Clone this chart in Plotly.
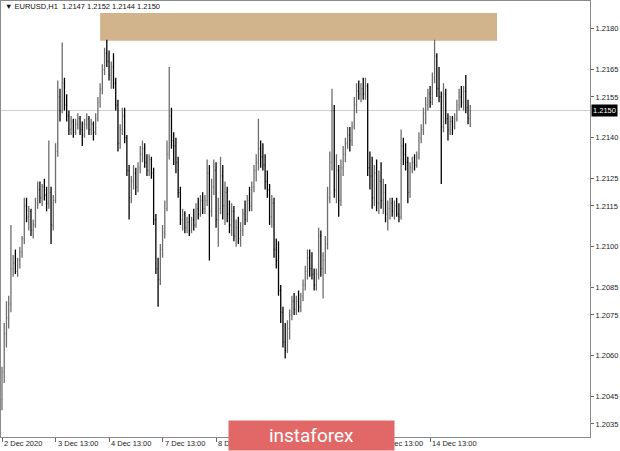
import plotly.graph_objects as go

# ---------------- data (prices in pips above 1.2000) ----------------
symbol = "EURUSD,H1"
pip_base = 1.2000
pip = 0.0001

open_pips = [44, 54, 68, 74, 79, 92, 94, 91, 95, 98, 103, 115, 111, 113, 106, 108, 116, 121, 118, 122,
             119, 116, 120, 108, 117, 135, 155, 150, 160, 152, 148, 143, 146, 142, 145, 147, 143, 141, 145, 147,
             143, 145, 142, 147, 153, 158, 165, 171, 168, 163, 166, 160, 152, 138, 143, 148, 140, 128, 118, 124,
             127, 122, 129, 134, 136, 131, 128, 132, 127, 110, 92, 88, 99, 105, 114, 134, 148, 139, 137, 131,
             120, 110, 112, 107, 109, 106, 110, 108, 114, 112, 117, 114, 117, 127, 113, 122, 128, 110, 114, 126,
             115, 120, 112, 108, 113, 104, 107, 103, 106, 112, 110, 117, 115, 122, 128, 131, 136, 133, 130, 124,
             121, 111, 116, 99, 95, 84, 76, 65, 62, 70, 75, 80, 77, 80, 78, 82, 86, 91, 96, 92,
             90, 86, 90, 104, 92, 95, 101, 118, 131, 150, 121, 128, 117, 129, 134, 138, 141, 139, 144, 152,
             157, 156, 158, 156, 159, 129, 126, 118, 127, 116, 124, 117, 120, 112, 114, 116, 113, 115, 112, 111,
             137, 134, 131, 120, 129, 131, 130, 133, 140, 143, 149, 152, 156, 153, 162, 170, 158, 155, 144, 156,
             147, 143, 146, 144, 147, 152, 155, 153, 157, 151, 147]
high_pips = [56, 72, 80, 82, 108, 97, 99, 96, 100, 104, 118, 118, 115, 114, 110, 118, 124, 124, 123, 125,
             122, 139, 122, 119, 138, 161, 158, 175, 162, 156, 150, 148, 147, 147, 149, 148, 146, 147, 149, 148,
             147, 146, 149, 155, 160, 167, 173, 176, 172, 168, 171, 162, 154, 145, 151, 151, 141, 130, 126, 130,
             129, 131, 137, 139, 138, 134, 134, 133, 129, 112, 96, 101, 108, 117, 139, 166, 151, 142, 140, 133,
             122, 114, 113, 111, 112, 111, 114, 116, 118, 119, 120, 119, 132, 130, 125, 132, 131, 118, 133, 130,
             124, 122, 117, 116, 115, 110, 111, 109, 114, 117, 119, 122, 124, 130, 134, 147, 139, 138, 134, 128,
             123, 119, 118, 103, 102, 86, 78, 72, 73, 77, 82, 83, 82, 84, 83, 88, 93, 99, 99, 98,
             92, 92, 107, 106, 98, 104, 122, 135, 158, 152, 134, 130, 132, 137, 140, 144, 144, 146, 155, 160,
             161, 160, 162, 162, 160, 135, 133, 130, 132, 128, 131, 125, 123, 117, 118, 118, 117, 118, 116, 143,
             140, 138, 133, 131, 133, 134, 135, 142, 145, 151, 155, 158, 159, 164, 176, 171, 166, 157, 160, 158,
             149, 148, 148, 149, 154, 158, 159, 159, 163, 154, 152]
low_pips = [40, 50, 63, 70, 76, 89, 90, 89, 92, 96, 101, 109, 106, 104, 103, 107, 114, 116, 115, 117,
            113, 114, 101, 106, 116, 133, 146, 149, 150, 146, 141, 141, 140, 141, 143, 141, 137, 140, 143, 141,
            141, 139, 141, 146, 151, 156, 163, 166, 161, 158, 158, 150, 135, 136, 141, 138, 126, 110, 116, 121,
            119, 120, 127, 131, 129, 126, 126, 125, 108, 90, 78, 86, 96, 103, 113, 132, 136, 130, 127, 118,
            108, 106, 105, 105, 104, 105, 106, 107, 110, 111, 112, 112, 115, 95, 111, 119, 107, 100, 112, 110,
            108, 109, 105, 104, 102, 100, 101, 100, 104, 108, 109, 113, 113, 120, 124, 128, 129, 128, 121, 118,
            108, 107, 96, 92, 82, 72, 63, 59, 61, 66, 73, 75, 75, 76, 76, 80, 84, 88, 89, 88,
            84, 84, 88, 89, 81, 90, 99, 116, 128, 118, 116, 111, 115, 126, 131, 136, 135, 137, 143, 149,
            154, 153, 154, 154, 126, 121, 114, 115, 113, 112, 114, 112, 109, 106, 110, 111, 110, 111, 109, 110,
            130, 128, 116, 118, 127, 128, 129, 132, 138, 141, 145, 150, 151, 152, 160, 155, 153, 123, 142, 145,
            139, 141, 141, 143, 146, 150, 151, 150, 149, 145, 144]
close_pips = [54, 68, 74, 79, 92, 94, 91, 95, 98, 103, 115, 111, 113, 106, 108, 116, 121, 118, 122, 119,
              116, 120, 108, 117, 135, 155, 150, 160, 152, 148, 143, 146, 142, 145, 147, 143, 141, 145, 147, 143,
              145, 142, 147, 153, 158, 165, 171, 168, 163, 166, 160, 152, 138, 143, 148, 140, 128, 118, 124, 127,
              122, 129, 134, 136, 131, 128, 132, 127, 110, 92, 88, 99, 105, 114, 134, 148, 139, 137, 131, 120,
              110, 112, 107, 109, 106, 110, 108, 114, 112, 117, 114, 117, 127, 113, 122, 128, 110, 114, 126, 115,
              120, 112, 108, 113, 104, 107, 103, 106, 112, 110, 117, 115, 122, 128, 131, 136, 133, 130, 124, 121,
              111, 116, 99, 95, 84, 76, 65, 62, 70, 75, 80, 77, 80, 78, 82, 86, 91, 96, 92, 90,
              86, 90, 104, 92, 95, 101, 118, 131, 150, 121, 128, 117, 129, 134, 138, 141, 139, 144, 152, 157,
              156, 158, 156, 159, 129, 126, 118, 127, 116, 124, 117, 120, 112, 114, 116, 113, 115, 112, 111, 137,
              134, 131, 120, 129, 131, 130, 133, 140, 143, 149, 152, 156, 153, 162, 170, 158, 155, 144, 156, 147,
              143, 146, 144, 147, 152, 155, 153, 157, 151, 147, 150]

tick_bars = [0, 24, 48, 72, 96, 120, 144, 168, 192]
tick_labels = ["2 Dec 2020", "3 Dec 13:00", "4 Dec 13:00", "7 Dec 13:00", "8 Dec 13:00",
               "9 Dec 13:00", "10 Dec 13:00", "11 Dec 13:00", "14 Dec 13:00"]
price_ticks = [1.2180, 1.2165, 1.2155, 1.2140, 1.2125, 1.2115, 1.2100,
               1.2085, 1.2075, 1.2060, 1.2045, 1.2035]
zone_bars = [44, 222]
zone_prices = [1.21756, 1.21858]
banner_text = "instaforex"

# ---------------- build ----------------
to_price = lambda v: round(pip_base + v * pip, 5)
o = [to_price(v) for v in open_pips]
h = [to_price(v) for v in high_pips]
l = [to_price(v) for v in low_pips]
c = [to_price(v) for v in close_pips]
xs = list(range(len(o)))
bid = c[-1]

FONT = "Liberation Sans"

fig = go.Figure()
fig.add_trace(go.Ohlc(
    x=xs, open=o, high=h, low=l, close=c,
    increasing=dict(line=dict(color="#6e6e6e", width=1.3)),
    decreasing=dict(line=dict(color="#000000", width=1.3)),
    tickwidth=0.35, hoverinfo="skip", showlegend=False,
))

# resistance zone
fig.add_shape(type="rect", xref="x", yref="y",
              x0=zone_bars[0], x1=zone_bars[1], y0=zone_prices[0], y1=zone_prices[1],
              fillcolor="#d2b48c", line=dict(width=0), layer="below")
# bid line
fig.add_shape(type="line", xref="paper", yref="y", x0=0, x1=1, y0=bid, y1=bid,
              line=dict(color="#cfcfcf", width=1), layer="below")

ann = []
title = "▼ {}  {:.4f} {:.4f} {:.4f} {:.4f}".format(symbol, o[-1], h[-1], l[-1], c[-1])
ann.append(dict(text=title, xref="paper", yref="paper", x=0.004, y=0.988,
                xanchor="left", yanchor="middle", showarrow=False,
                font=dict(family=FONT, size=7.5, color="#111")))
ann.append(dict(text="{:.4f}".format(bid), xref="paper", yref="y", x=1.0, y=bid,
                xanchor="left", yanchor="middle", showarrow=False, bgcolor="#000",
                borderpad=1, xshift=1, font=dict(family=FONT, size=7.5, color="#fff")))
for tb, tl in zip(tick_bars, tick_labels):
    ann.append(dict(text=tl, xref="x", yref="paper", x=tb, y=-0.016,
                    xanchor="left", yanchor="middle", showarrow=False,
                    font=dict(family=FONT, size=7.5, color="#222")))
ann.append(dict(text=banner_text, xref="paper", yref="paper", x=0.3854, y=-0.0321,
                xanchor="left", yanchor="bottom", showarrow=False,
                width=165, height=29, bgcolor="#e26868", borderpad=0,
                font=dict(family="Roboto", size=19, color="#ffffff")))

fig.update_layout(
    width=620, height=451,
    margin=dict(l=1, r=30, t=1, b=14),
    paper_bgcolor="#ffffff", plot_bgcolor="#ffffff",
    annotations=ann,
    xaxis=dict(range=[-0.45, 263.7], tickvals=tick_bars, showticklabels=False,
               ticks="outside", ticklen=4, tickcolor="#666", showgrid=False, zeroline=False,
               showline=True, linecolor="#8a8a8a", linewidth=1, mirror=True,
               rangeslider=dict(visible=False), fixedrange=True),
    yaxis=dict(range=[1.20302, 1.21902], side="right", tickvals=price_ticks, tickformat=".4f",
               ticks="outside", ticklen=3, tickcolor="#666", showgrid=False, zeroline=False,
               showline=True, linecolor="#8a8a8a", linewidth=1, mirror=True,
               tickfont=dict(family=FONT, size=7.5, color="#222"), fixedrange=True),
)

fig.write_html("out.html", config={"displayModeBar": False},
               post_script="document.body.style.margin='0px';document.body.style.overflow='hidden';")
